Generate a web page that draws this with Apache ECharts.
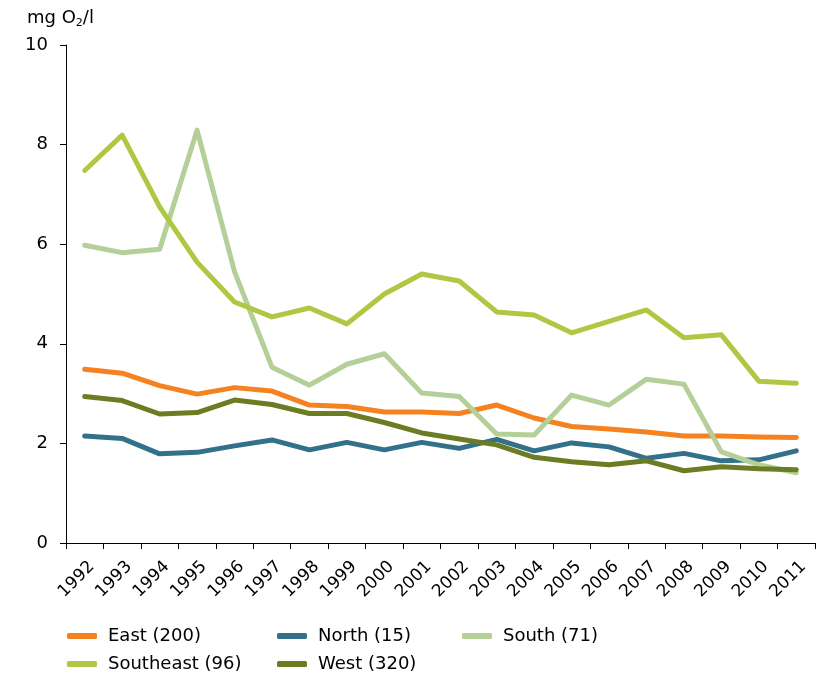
<!DOCTYPE html>
<html>
<head>
<meta charset="utf-8">
<script src="https://cdn.jsdelivr.net/npm/echarts@6/dist/echarts.min.js"></script>
<style>
  html, body { margin: 0; padding: 0; background: #fff; }
  #chart { width: 827px; height: 676px; }
</style>
</head>
<body>
<div id="chart"></div>
<script>
// Years along the x axis
const years = ['1992', '1993', '1994', '1995', '1996', '1997', '1998', '1999', '2000', '2001',
  '2002', '2003', '2004', '2005', '2006', '2007', '2008', '2009', '2010', '2011'];

// mg O2/l per region (number of stations in brackets)
const east = [3.49, 3.41, 3.16, 2.99, 3.12, 3.05, 2.77, 2.74, 2.63, 2.63,
  2.60, 2.77, 2.51, 2.34, 2.29, 2.23, 2.15, 2.15, 2.13, 2.12];
const north = [2.15, 2.10, 1.79, 1.82, 1.95, 2.07, 1.87, 2.02, 1.87, 2.02,
  1.90, 2.08, 1.85, 2.01, 1.93, 1.70, 1.80, 1.65, 1.67, 1.85];
const south = [5.98, 5.83, 5.90, 8.29, 5.45, 3.53, 3.17, 3.59, 3.80, 3.01,
  2.94, 2.19, 2.17, 2.97, 2.77, 3.29, 3.19, 1.83, 1.57, 1.41];
const southeast = [7.48, 8.19, 6.75, 5.64, 4.84, 4.54, 4.72, 4.40, 5.00, 5.40,
  5.26, 4.64, 4.58, 4.22, 4.45, 4.68, 4.12, 4.18, 3.25, 3.21];
const west = [2.94, 2.86, 2.59, 2.62, 2.87, 2.78, 2.60, 2.60, 2.42, 2.21,
  2.09, 1.97, 1.72, 1.63, 1.57, 1.65, 1.45, 1.53, 1.49, 1.47];

const seriesNames = ['East (200)', 'North (15)', 'South (71)', 'Southeast (96)', 'West (320)'];
const seriesData = [east, north, south, southeast, west];
const colors = ['#F58220', '#33718A', '#B4CF98', '#AFC844', '#6B7C22'];

const chart = echarts.init(document.getElementById('chart'));

const font = 'DejaVu Sans, Verdana, sans-serif';

// one legend per entry so each sits where the original has it
const legendPos = [
  { left: 67, top: 627 },
  { left: 277, top: 627 },
  { left: 462, top: 627 },
  { left: 67, top: 655 },
  { left: 277, top: 655 }
];
const legends = seriesNames.map((name, i) => ({
  data: [name],
  left: legendPos[i].left,
  top: legendPos[i].top,
  itemWidth: 30,
  itemHeight: 6,
  itemGap: 0,
  padding: 0,
  icon: 'roundRect',
  selectedMode: false,
  textStyle: { fontFamily: font, fontSize: 18, color: '#000', padding: [0, 0, 0, 6] }
}));

const option = {
  animation: false,
  color: colors,
  title: {
    text: '{a|mg O}{s|2}{a|/l}',
    left: 27,
    top: 6,
    padding: 0,
    textStyle: {
      fontWeight: 'normal',
      rich: {
        a: { fontFamily: font, fontSize: 18, fontWeight: 'normal', color: '#000', lineHeight: 24 },
        s: { fontFamily: font, fontSize: 11, fontWeight: 'normal', color: '#000', lineHeight: 24, padding: [10, 0, 0, 0] }
      }
    }
  },
  legend: legends,
  grid: { left: 66, right: 12, top: 45, bottom: 133, containLabel: false },
  xAxis: {
    type: 'category',
    data: years,
    boundaryGap: true,
    axisLine: { lineStyle: { color: '#000', width: 1 } },
    axisTick: { show: true, length: 6, lineStyle: { color: '#000' } },
    axisLabel: {
      rotate: 45,
      margin: 14,
      verticalAlign: 'top',
      lineHeight: 20,
      fontFamily: font,
      fontSize: 17,
      color: '#000',
      interval: 0
    },
    splitLine: { show: false }
  },
  yAxis: {
    type: 'value',
    min: 0,
    max: 10,
    interval: 2,
    axisLine: { show: true, lineStyle: { color: '#000', width: 1 } },
    axisTick: { show: true, length: 6, inside: false, lineStyle: { color: '#000' } },
    axisLabel: { fontFamily: font, fontSize: 18, color: '#000', margin: 18 },
    splitLine: { show: false }
  },
  series: seriesNames.map((name, i) => ({
    name: name,
    type: 'line',
    data: seriesData[i],
    showSymbol: false,
    symbol: 'none',
    lineStyle: { width: 5, color: colors[i], cap: 'round', join: 'round' },
    itemStyle: { color: colors[i] }
  }))
};

chart.setOption(option);
</script>
</body>
</html>
